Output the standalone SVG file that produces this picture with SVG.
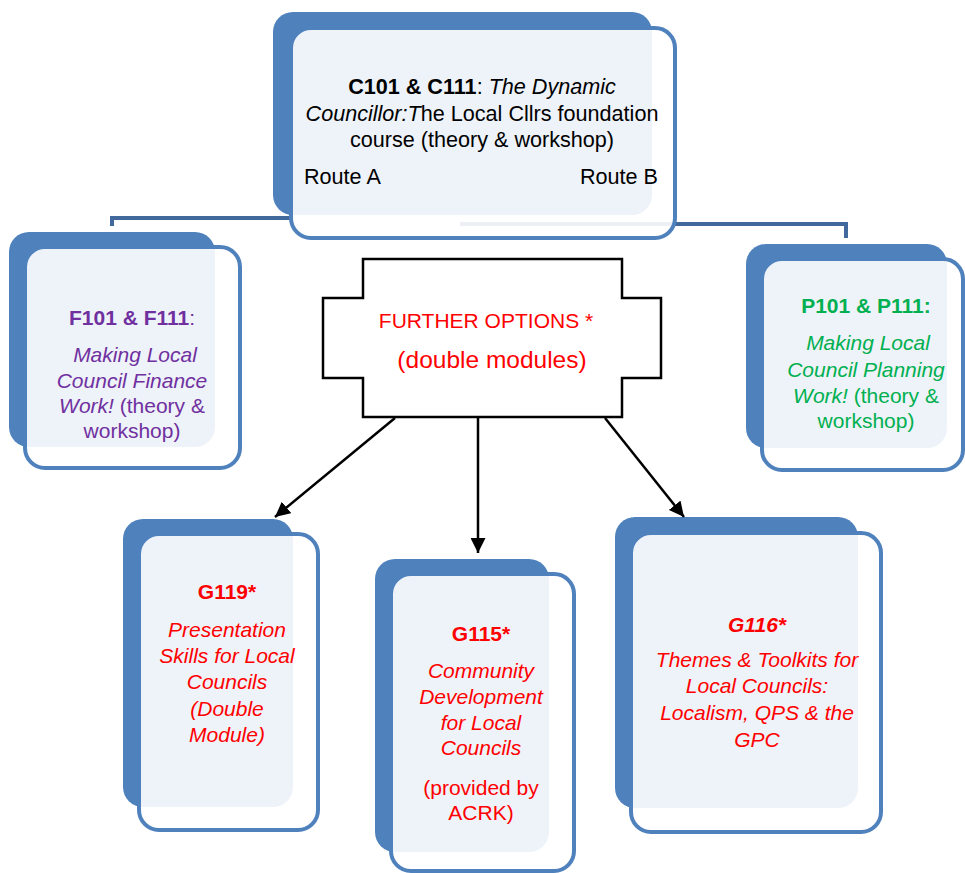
<svg xmlns="http://www.w3.org/2000/svg" width="965" height="873" viewBox="0 0 965 873">
<style>
.back{fill:#4F81BD;}
.front{fill:#FFFFFF;fill-opacity:0.9;stroke:#4F81BD;stroke-width:4;}
.conn{fill:none;stroke:#41699C;stroke-width:4;}
.arrow{fill:none;stroke:#000;stroke-width:2.5;}
text{font-family:"Liberation Sans",Arial,sans-serif;font-size:21px;text-anchor:middle;}
.b{font-weight:bold;}
.i{font-style:italic;}
.blk{fill:#000;font-size:21.6px;}
.pur{fill:#7030A0;}
.grn{fill:#00B050;}
.red{fill:#FF0000;}
</style>
<defs>
<marker id="ah" viewBox="0 0 15 15" refX="15" refY="7.5" markerWidth="15" markerHeight="15" markerUnits="userSpaceOnUse" orient="auto">
<path d="M0,0 L15,7.5 L0,15 z" fill="#000"/>
</marker>
</defs>
<rect width="965" height="873" fill="#FFFFFF"/>

<g id="connectors">
<path class="conn" d="M290,218 H112 V226"/>
<path class="conn" d="M460,224 H846 V238"/>
</g>

<g id="node-c101">
<rect class="back" x="273" y="12" width="379" height="203" rx="20"/>
<rect class="front" x="291" y="28" width="384" height="210" rx="20"/>
<text class="blk" x="482" y="94"><tspan class="b">C101 &amp; C111</tspan>: <tspan class="i">The Dynamic</tspan></text>
<text class="blk" x="482" y="121"><tspan class="i">Councillor:T</tspan>he Local Cllrs foundation</text>
<text class="blk" x="482" y="147">course (theory &amp; workshop)</text>
<text class="blk" x="304" y="184" style="text-anchor:start">Route A</text>
<text class="blk" x="658" y="184" style="text-anchor:end">Route B</text>
</g>

<g id="node-f101">
<rect class="back" x="9" y="232" width="206" height="215" rx="20"/>
<rect class="front" x="25" y="247" width="215" height="221" rx="20"/>
<text class="pur" x="132" y="325"><tspan class="b">F101 &amp; F111</tspan>:</text>
<text class="pur i" x="135" y="362">Making Local</text>
<text class="pur i" x="132" y="388">Council Finance</text>
<text class="pur" x="132" y="413"><tspan class="i">Work!</tspan> (theory &amp;</text>
<text class="pur" x="132" y="438">workshop)</text>
</g>

<g id="node-p101">
<rect class="back" x="746" y="244" width="201" height="204" rx="20"/>
<rect class="front" x="762" y="259" width="201" height="211" rx="20"/>
<text class="grn b" x="866" y="313">P101 &amp; P111:</text>
<text class="grn i" x="868" y="350">Making Local</text>
<text class="grn i" x="866" y="377">Council Planning</text>
<text class="grn" x="866" y="403"><tspan class="i">Work!</tspan> (theory &amp;</text>
<text class="grn" x="866" y="428">workshop)</text>
</g>

<g id="node-further">
<path d="M363,259 H622 V298 H661 V378 H622 V417 H363 V378 H323 V298 H363 Z" fill="#FFFFFF" stroke="#000" stroke-width="2.5"/>
<text class="red" x="486" y="328">FURTHER OPTIONS *</text>
<text class="red" x="492" y="368" style="font-size:24.5px">(double modules)</text>
</g>

<g id="node-g119">
<rect class="back" x="123" y="519" width="170" height="288" rx="20"/>
<rect class="front" x="139" y="534" width="179" height="296" rx="20"/>
<text class="red b" x="227" y="599">G119*</text>
<text class="red i" x="227" y="637">Presentation</text>
<text class="red i" x="227" y="663">Skills for Local</text>
<text class="red i" x="227" y="689">Councils</text>
<text class="red i" x="227" y="716">(Double</text>
<text class="red i" x="227" y="742">Module)</text>
</g>

<g id="node-g115">
<rect class="back" x="375" y="559" width="174" height="293" rx="20"/>
<rect class="front" x="391" y="574" width="183" height="297" rx="20"/>
<text class="red b" x="481" y="641">G115*</text>
<text class="red i" x="481" y="678">Community</text>
<text class="red i" x="481" y="704">Development</text>
<text class="red i" x="481" y="730">for Local</text>
<text class="red i" x="481" y="755">Councils</text>
<text class="red" x="481" y="795">(provided by</text>
<text class="red" x="481" y="820">ACRK)</text>
</g>

<g id="node-g116">
<rect class="back" x="615" y="517" width="243" height="291" rx="20"/>
<rect class="front" x="631" y="533" width="250" height="299" rx="20"/>
<text class="red b i" x="757" y="632">G116*</text>
<text class="red i" x="757" y="667">Themes &amp; Toolkits for</text>
<text class="red i" x="757" y="693">Local Councils:</text>
<text class="red i" x="757" y="720">Localism, QPS &amp; the</text>
<text class="red i" x="757" y="747">GPC</text>
</g>

<g id="arrows">
<path class="arrow" d="M395,418 L275,517" marker-end="url(#ah)"/>
<path class="arrow" d="M478,418 L478,553" marker-end="url(#ah)"/>
<path class="arrow" d="M605,418 L684,517" marker-end="url(#ah)"/>
</g>
</svg>
